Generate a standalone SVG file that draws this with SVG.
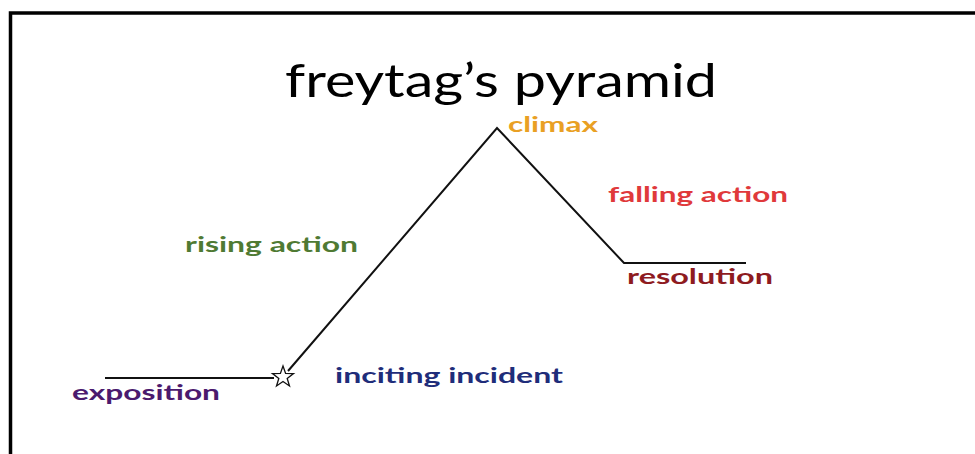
<svg xmlns="http://www.w3.org/2000/svg" width="975" height="454" viewBox="0 0 975 454">
<style>
.lbl{font-family:Lato,"Open Sans","Liberation Sans",sans-serif;font-weight:bold;font-size:21px}
.ln{fill:none;stroke:#111;stroke-width:2;stroke-linejoin:miter}
</style>
<rect x="0" y="0" width="975" height="454" fill="#fff"/>
<g id="frame"><path d="M10.5 460 V13 H980" fill="none" stroke="#000" stroke-width="3.5"/></g>
<g id="title"><text x="285" y="97" font-family="Lato,'Open Sans','Liberation Sans',sans-serif" font-size="46" fill="#000" textLength="432" lengthAdjust="spacingAndGlyphs">freytag’s pyramid</text></g>
<g id="connectors">
<path class="ln" d="M105 378 H274"/>
<path class="ln" d="M288 371 L497 128 L624 263 H746"/>
</g>
<g id="star"><polygon points="283,366 285.6,373.4 293.5,373.6 287.2,378.4 289.5,386 283,381.5 276.5,386 278.8,378.4 272.5,373.6 280.4,373.4" fill="#fff" stroke="#111" stroke-width="1.3"/></g>
<g id="exposition"><text class="lbl" x="72" y="400" fill="#4B1A6E" textLength="148" lengthAdjust="spacingAndGlyphs">exposition</text></g>
<g id="inciting"><text class="lbl" x="335" y="383" fill="#1F2D7A" textLength="228" lengthAdjust="spacingAndGlyphs">inciting incident</text></g>
<g id="rising"><text class="lbl" x="185" y="252" fill="#4F7A33" textLength="173" lengthAdjust="spacingAndGlyphs">rising action</text></g>
<g id="climax"><text class="lbl" x="508" y="132" fill="#E9A024" textLength="90" lengthAdjust="spacingAndGlyphs">climax</text></g>
<g id="falling"><text class="lbl" x="608" y="202" fill="#E0393B" textLength="180" lengthAdjust="spacingAndGlyphs">falling action</text></g>
<g id="resolution"><text class="lbl" x="627" y="284" fill="#8E1B1F" textLength="146" lengthAdjust="spacingAndGlyphs">resolution</text></g>
</svg>
